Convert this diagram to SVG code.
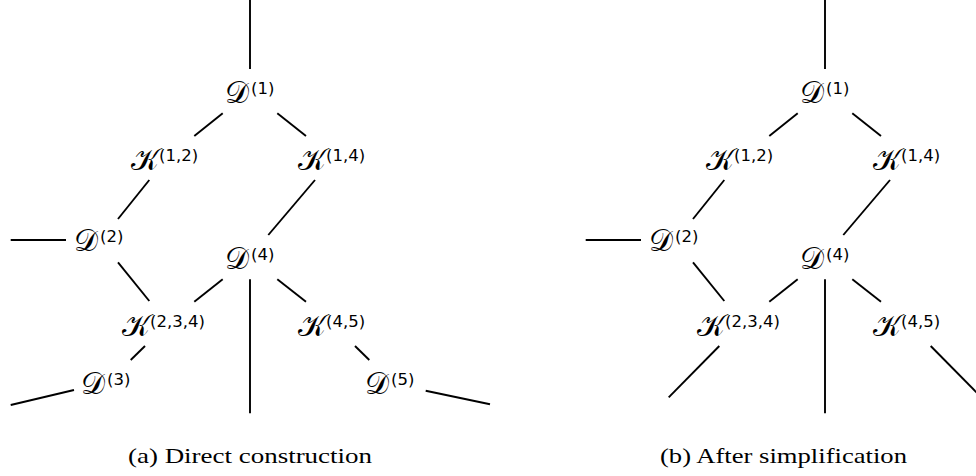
<svg xmlns="http://www.w3.org/2000/svg" width="976" height="476" viewBox="0 0 976 476">
<style>
.e{stroke:#000;stroke-width:1.9;fill:none}
.m{font-family:"DejaVu Serif","Noto Sans","DejaVu Sans",serif;font-style:normal;font-size:30px;fill:#000}
.s{font-family:"DejaVu Sans","Liberation Sans",sans-serif;font-size:16.5px;fill:#000}
.c{font-family:"Liberation Serif","Times New Roman",serif;font-size:22px;fill:#000}
</style>
<rect width="976" height="476" fill="#fff"/>
<g id="connectors">
<g id="edges-a">
<line class="e" x1="250" y1="0" x2="250" y2="69"/>
<line class="e" x1="222.7" y1="113.3" x2="194.3" y2="136"/>
<line class="e" x1="277.3" y1="113.3" x2="306" y2="136"/>
<line class="e" x1="149.3" y1="180" x2="118" y2="219"/>
<line class="e" x1="315" y1="180" x2="268.3" y2="235"/>
<line class="e" x1="10.7" y1="240" x2="66" y2="240"/>
<line class="e" x1="118" y1="262.3" x2="149.3" y2="301"/>
<line class="e" x1="222.7" y1="279.3" x2="194.3" y2="301.7"/>
<line class="e" x1="250" y1="279.3" x2="250" y2="413.3"/>
<line class="e" x1="277.3" y1="279.3" x2="306" y2="301.7"/>
<line class="e" x1="145" y1="346" x2="130.7" y2="360"/>
<line class="e" x1="355" y1="346" x2="369.3" y2="360"/>
<line class="e" x1="10.7" y1="405" x2="74" y2="390"/>
<line class="e" x1="425.7" y1="390.7" x2="490" y2="404.3"/>
</g>
<g id="edges-b">
<line class="e" x1="825" y1="0" x2="825" y2="69"/>
<line class="e" x1="797.7" y1="113.3" x2="769.3" y2="136"/>
<line class="e" x1="852.3" y1="113.3" x2="881" y2="136"/>
<line class="e" x1="724.3" y1="180" x2="693" y2="219"/>
<line class="e" x1="890" y1="180" x2="843.3" y2="235"/>
<line class="e" x1="585.7" y1="240" x2="641" y2="240"/>
<line class="e" x1="693" y1="262.3" x2="724.3" y2="301"/>
<line class="e" x1="797.7" y1="279.3" x2="769.3" y2="301.7"/>
<line class="e" x1="825" y1="279.3" x2="825" y2="413.3"/>
<line class="e" x1="852.3" y1="279.3" x2="881" y2="301.7"/>
<line class="e" x1="719.3" y1="346" x2="668.7" y2="397.3"/>
<line class="e" x1="930.7" y1="346" x2="981.3" y2="397.3"/>
</g>
</g>
<g id="a-D1"><text class="m" x="225" y="103">𝒟</text><text class="s" x="251" y="94">(1)</text></g>
<g id="a-K12"><text class="m" x="131" y="170">𝒦</text><text class="s" x="159" y="161">(1,2)</text></g>
<g id="a-K14"><text class="m" x="298" y="170">𝒦</text><text class="s" x="326" y="161">(1,4)</text></g>
<g id="a-D2"><text class="m" x="74" y="251">𝒟</text><text class="s" x="100" y="242">(2)</text></g>
<g id="a-D4"><text class="m" x="225" y="269">𝒟</text><text class="s" x="251" y="260">(4)</text></g>
<g id="a-K234"><text class="m" x="122" y="336">𝒦</text><text class="s" x="150" y="327">(2,3,4)</text></g>
<g id="a-K45"><text class="m" x="298" y="336">𝒦</text><text class="s" x="326" y="327">(4,5)</text></g>
<g id="a-D3"><text class="m" x="81" y="394">𝒟</text><text class="s" x="107" y="385">(3)</text></g>
<g id="a-D5"><text class="m" x="365" y="394">𝒟</text><text class="s" x="391" y="385">(5)</text></g>
<g id="b-D1"><text class="m" x="800" y="103">𝒟</text><text class="s" x="826" y="94">(1)</text></g>
<g id="b-K12"><text class="m" x="706" y="170">𝒦</text><text class="s" x="734" y="161">(1,2)</text></g>
<g id="b-K14"><text class="m" x="873" y="170">𝒦</text><text class="s" x="901" y="161">(1,4)</text></g>
<g id="b-D2"><text class="m" x="649" y="251">𝒟</text><text class="s" x="675" y="242">(2)</text></g>
<g id="b-D4"><text class="m" x="800" y="269">𝒟</text><text class="s" x="826" y="260">(4)</text></g>
<g id="b-K234"><text class="m" x="697" y="336">𝒦</text><text class="s" x="725" y="327">(2,3,4)</text></g>
<g id="b-K45"><text class="m" x="873" y="336">𝒦</text><text class="s" x="901" y="327">(4,5)</text></g>
<text class="c" x="128" y="463" textLength="244" lengthAdjust="spacingAndGlyphs">(a) Direct construction</text>
<text class="c" x="660" y="463" textLength="247" lengthAdjust="spacingAndGlyphs">(b) After simplification</text>
</svg>
